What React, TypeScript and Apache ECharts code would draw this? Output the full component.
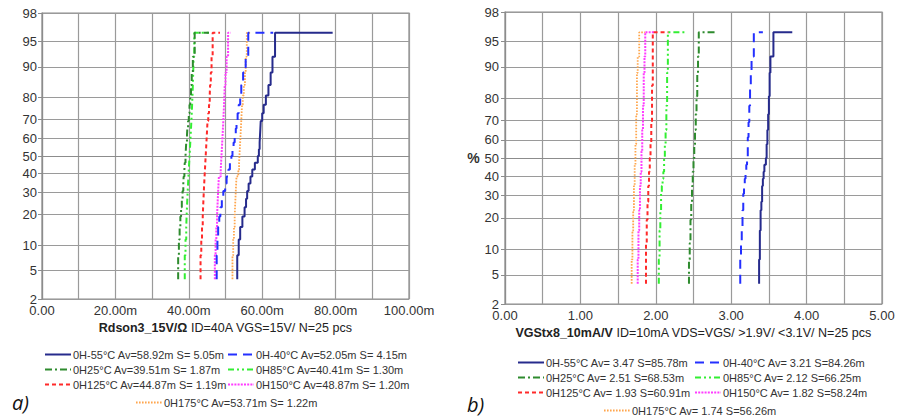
import React, { useEffect, useRef } from "react";
import * as echarts from "echarts";

// Plotting positions (%) for N = 25 pcs
const PLOT_POS = [3.85, 7.69, 11.54, 15.38, 19.23, 23.08, 26.92, 30.77, 34.62, 38.46, 42.31, 46.15, 50.0, 53.85, 57.69, 61.54, 65.38, 69.23, 73.08, 76.92, 80.77, 84.62, 88.46, 92.31, 96.15];

// Probability axis tick labels (%)
const Y_TICKS = [2, 5, 10, 20, 30, 40, 50, 60, 70, 80, 90, 95, 98];

// Panel a) Rdson (m-ohm)
const A_NAMES = [
  "0H-55°C Av=58.92m S= 5.05m",
  "0H-40°C Av=52.05m S= 4.15m",
  "0H25°C Av=39.51m S= 1.87m",
  "0H85°C Av=40.41m S= 1.30m",
  "0H125°C Av=44.87m S= 1.19m",
  "0H150°C Av=48.87m S= 1.20m",
  "0H175°C Av=53.71m S= 1.22m",
];
const A_M55 = [53.2, 53.6, 54.0, 54.6, 55.2, 55.6, 55.9, 56.3, 56.8, 57.3, 58.0, 58.8, 59.1, 59.3, 59.4, 59.5, 59.6, 60.0, 60.4, 61.0, 61.7, 62.3, 62.8, 63.5, 79.2];
const A_M40 = [47.6, 47.8, 48.0, 48.3, 48.6, 49.0, 49.4, 49.9, 50.3, 50.8, 51.2, 51.6, 51.9, 52.2, 52.5, 52.8, 53.0, 53.3, 53.6, 54.0, 54.3, 54.8, 55.5, 56.2, 63.0];
const A_25 = [37.1, 37.3, 37.5, 37.7, 37.9, 38.1, 38.3, 38.5, 38.6, 38.8, 38.9, 39.1, 39.2, 39.3, 39.5, 39.6, 39.8, 40.0, 40.2, 40.4, 40.6, 40.8, 41.1, 41.6, 45.5];
const A_85 = [38.9, 39.1, 39.3, 39.4, 39.5, 39.6, 39.7, 39.8, 39.9, 40.0, 40.1, 40.2, 40.3, 40.4, 40.5, 40.6, 40.7, 40.8, 40.9, 41.0, 41.1, 41.2, 41.3, 41.5, 46.0];
const A_125 = [43.2, 43.4, 43.6, 43.8, 43.9, 44.0, 44.1, 44.2, 44.3, 44.4, 44.5, 44.6, 44.7, 44.8, 44.9, 45.0, 45.1, 45.3, 45.5, 45.7, 45.8, 46.0, 46.2, 46.5, 48.5];
const A_150 = [47.1, 47.3, 47.5, 47.7, 47.8, 47.9, 48.0, 48.1, 48.2, 48.7, 48.8, 48.9, 49.0, 49.1, 49.2, 49.3, 49.4, 49.5, 49.6, 49.7, 49.8, 50.0, 50.3, 50.7, 51.4];
const A_175 = [51.9, 52.1, 52.3, 52.5, 52.6, 52.7, 52.8, 52.9, 53.0, 53.5, 53.7, 53.8, 53.9, 54.0, 54.1, 54.2, 54.3, 54.4, 54.5, 54.7, 55.0, 55.3, 55.5, 55.8, 56.7];
const A_X_LABELS = ["0.00", "20.00m", "40.00m", "60.00m", "80.00m", "100.00m"];

// Panel b) VGS threshold (V)
const B_NAMES = [
  "0H-55°C Av= 3.47 S=85.78m",
  "0H-40°C Av= 3.21 S=84.26m",
  "0H25°C Av= 2.51 S=68.53m",
  "0H85°C Av= 2.12 S=66.25m",
  "0H125°C Av= 1.93 S=60.91m",
  "0H150°C Av= 1.82 S=58.24m",
  "0H175°C Av= 1.74 S=56.26m",
];
const B_M55 = [3.37, 3.38, 3.38, 3.39, 3.39, 3.40, 3.41, 3.41, 3.42, 3.43, 3.44, 3.46, 3.47, 3.47, 3.48, 3.48, 3.49, 3.49, 3.50, 3.50, 3.51, 3.51, 3.52, 3.56, 3.81];
const B_M40 = [3.12, 3.13, 3.14, 3.15, 3.15, 3.16, 3.16, 3.17, 3.18, 3.19, 3.20, 3.21, 3.22, 3.22, 3.22, 3.23, 3.23, 3.24, 3.24, 3.25, 3.25, 3.26, 3.27, 3.30, 3.42];
const B_25 = [2.44, 2.45, 2.46, 2.46, 2.47, 2.47, 2.48, 2.48, 2.49, 2.49, 2.50, 2.50, 2.51, 2.51, 2.52, 2.52, 2.53, 2.53, 2.54, 2.54, 2.55, 2.55, 2.56, 2.57, 2.78];
const B_85 = [2.04, 2.05, 2.05, 2.06, 2.06, 2.07, 2.07, 2.08, 2.09, 2.10, 2.11, 2.11, 2.12, 2.12, 2.13, 2.13, 2.14, 2.14, 2.14, 2.15, 2.15, 2.15, 2.16, 2.16, 2.41];
const B_125 = [1.87, 1.87, 1.88, 1.88, 1.89, 1.89, 1.90, 1.90, 1.91, 1.91, 1.92, 1.92, 1.93, 1.93, 1.94, 1.94, 1.94, 1.95, 1.95, 1.95, 1.95, 1.96, 1.96, 1.96, 2.17];
const B_150 = [1.76, 1.77, 1.77, 1.78, 1.78, 1.79, 1.79, 1.79, 1.80, 1.80, 1.81, 1.81, 1.81, 1.82, 1.82, 1.82, 1.83, 1.83, 1.83, 1.84, 1.84, 1.84, 1.85, 1.86, 1.98];
const B_175 = [1.68, 1.69, 1.69, 1.70, 1.70, 1.71, 1.71, 1.71, 1.72, 1.72, 1.72, 1.73, 1.73, 1.73, 1.74, 1.74, 1.74, 1.74, 1.75, 1.75, 1.75, 1.75, 1.76, 1.78, 1.86];
const B_X_LABELS = ["0.00", "1.00", "2.00", "3.00", "4.00", "5.00"];

const COLORS = ["#262b8c", "#2430ff", "#2e8b2e", "#33ee33", "#ff2a2a", "#ff3cff", "#ffa64d"];
const DASHES: any[] = ["solid", [9, 6], [7, 3, 2, 3], [6, 3, 2, 3, 2, 3], [4, 3], [2, 1.2], [1.6, 1.4]];
const WIDTHS = [2, 2, 2, 2, 2, 2, 1.8];

const FONT = "'Liberation Sans', Arial, sans-serif";

function probit(p: number): number {
  const a = [-3.969683028665376e1, 2.209460984245205e2, -2.759285104469687e2, 1.38357751867269e2, -3.066479806614716e1, 2.506628277459239];
  const b = [-5.447609879822406e1, 1.615858368580409e2, -1.556989798598866e2, 6.680131188771972e1, -1.328068155288572e1];
  const c = [-7.784894002430293e-3, -3.223964580411365e-1, -2.400758277161838, -2.549671010229583, 4.374664141464968, 2.938163982698783];
  const d = [7.784695709041462e-3, 3.224671290700398e-1, 2.445134137142996, 3.754408661907416];
  const pl = 0.02425;
  if (p < pl) {
    const q = Math.sqrt(-2 * Math.log(p));
    return (((((c[0] * q + c[1]) * q + c[2]) * q + c[3]) * q + c[4]) * q + c[5]) / ((((d[0] * q + d[1]) * q + d[2]) * q + d[3]) * q + 1);
  }
  if (p <= 1 - pl) {
    const q = p - 0.5;
    const r = q * q;
    return ((((((a[0] * r + a[1]) * r + a[2]) * r + a[3]) * r + a[4]) * r + a[5]) * q) / (((((b[0] * r + b[1]) * r + b[2]) * r + b[3]) * r + b[4]) * r + 1);
  }
  const q = Math.sqrt(-2 * Math.log(1 - p));
  return -(((((c[0] * q + c[1]) * q + c[2]) * q + c[3]) * q + c[4]) * q + c[5]) / ((((d[0] * q + d[1]) * q + d[2]) * q + d[3]) * q + 1);
}

const Y_Z = Y_TICKS.map((t) => probit(t / 100));
const Y_MIN = Y_Z[0];
const Y_MAX = Y_Z[Y_Z.length - 1];

function yLabel(v: number): string {
  let best = 0;
  for (let i = 1; i < Y_Z.length; i++) if (Math.abs(Y_Z[i] - v) < Math.abs(Y_Z[best] - v)) best = i;
  return String(Y_TICKS[best]);
}

function makeSeries(values: number[][], names: string[], gridIdx: number) {
  return values.map((vals, k) => ({
    type: "line",
    name: names[k],
    xAxisIndex: gridIdx,
    yAxisIndex: gridIdx,
    step: "start",
    symbol: "none",
    showSymbol: false,
    z: 10 - k,
    lineStyle: { color: COLORS[k], width: WIDTHS[k], type: DASHES[k] },
    itemStyle: { color: COLORS[k] },
    data: vals.map((v, i) => [v, probit(PLOT_POS[i] / 100)]),
  }));
}

function yAxisCfg(gridIndex: number, margin: number, name: string) {
  return {
    type: "value",
    gridIndex,
    min: Y_MIN,
    max: Y_MAX,
    name,
    nameLocation: "middle",
    nameRotate: 0,
    nameGap: 24,
    nameTextStyle: { fontFamily: FONT, fontSize: 14, fontWeight: "bold", color: "#333" },
    axisLine: { show: true, lineStyle: { color: "#8c8c8c", width: 1.2 } },
    axisTick: { show: true, length: 4, customValues: Y_Z, lineStyle: { color: "#8c8c8c" } },
    axisLabel: { customValues: Y_Z, margin, fontFamily: FONT, fontSize: 13, color: "#333", formatter: (v: number) => yLabel(v) },
    splitLine: { show: true, lineStyle: { color: "#9a9a9a", width: 1.2 } },
  };
}

function legendCfg(left: number, top: number, data: string[]) {
  return {
    left,
    top,
    orient: "vertical",
    padding: 0,
    itemWidth: 26,
    itemHeight: 12,
    itemGap: 4,
    selectedMode: false,
    itemStyle: { opacity: 0, borderWidth: 0 },
    data,
    textStyle: { fontFamily: FONT, fontSize: 11, color: "#333", padding: [0, 0, 0, -3] },
  };
}

export default function App() {
  const ref = useRef<HTMLDivElement>(null);
  useEffect(() => {
    if (!ref.current) return;
    const chart = echarts.init(ref.current, null, { renderer: "svg" });
    const option: any = {
      animation: false,
      backgroundColor: "#fff",
      grid: [
        { left: 42, top: 13, width: 367, height: 286, show: true, borderColor: "#8c8c8c", borderWidth: 1.2, backgroundColor: "#fff" },
        { left: 505, top: 12, width: 377, height: 292, show: true, borderColor: "#8c8c8c", borderWidth: 1.2, backgroundColor: "#fff" },
      ],
      xAxis: [
        {
          type: "value",
          gridIndex: 0,
          min: 0,
          max: 100,
          interval: 10,
          name: "{b|Rdson3_15V/Ω} ID=40A VGS=15V/ N=25 pcs",
          nameLocation: "middle",
          nameGap: 21,
          nameTextStyle: {
            fontFamily: FONT,
            fontSize: 12.5,
            color: "#222",
            verticalAlign: "top",
            rich: { b: { fontFamily: FONT, fontSize: 12.5, fontWeight: "bold", color: "#222" } },
          },
          axisLine: { show: true, lineStyle: { color: "#8c8c8c", width: 1.2 } },
          axisTick: { show: false },
          axisLabel: {
            margin: 5,
            fontFamily: FONT,
            fontSize: 13,
            color: "#333",
            formatter: (v: number) => (Math.round(v) % 20 === 0 ? A_X_LABELS[Math.round(v) / 20] : ""),
          },
          splitLine: { show: true, lineStyle: { color: "#9a9a9a", width: 1.2 } },
        },
        {
          type: "value",
          gridIndex: 1,
          min: 0,
          max: 5,
          interval: 0.5,
          name: "{b|VGStx8_10mA/V} ID=10mA VDS=VGS/ >1.9V/ <3.1V/ N=25 pcs",
          nameLocation: "middle",
          nameGap: 20,
          nameTextStyle: {
            fontFamily: FONT,
            fontSize: 12.5,
            color: "#222",
            verticalAlign: "top",
            rich: { b: { fontFamily: FONT, fontSize: 12.5, fontWeight: "bold", color: "#222" } },
          },
          axisLine: { show: true, lineStyle: { color: "#8c8c8c", width: 1.2 } },
          axisTick: { show: false },
          axisLabel: {
            margin: 5,
            fontFamily: FONT,
            fontSize: 13,
            color: "#333",
            formatter: (v: number) => {
              const k = Math.round(v * 2);
              return k % 2 === 0 ? B_X_LABELS[k / 2] : "";
            },
          },
          splitLine: { show: true, lineStyle: { color: "#9a9a9a", width: 1.2 } },
        },
      ],
      yAxis: [yAxisCfg(0, 5, ""), yAxisCfg(1, 6, "%")],
      legend: [
        legendCfg(44, 349, [A_NAMES[0], A_NAMES[2], A_NAMES[4]]),
        legendCfg(227, 349, [A_NAMES[1], A_NAMES[3], A_NAMES[5]]),
        legendCfg(135, 397, [A_NAMES[6]]),
        legendCfg(517, 357, [B_NAMES[0], B_NAMES[2], B_NAMES[4]]),
        legendCfg(694, 357, [B_NAMES[1], B_NAMES[3], B_NAMES[5]]),
        legendCfg(603, 405, [B_NAMES[6]]),
      ],
      graphic: [
        { type: "text", left: 12, top: 392, style: { text: "a)", fontFamily: "'Open Sans', sans-serif", fontStyle: "italic", fontSize: 20, fill: "#111" } },
        { type: "text", left: 467, top: 394, style: { text: "b)", fontFamily: "'Open Sans', sans-serif", fontStyle: "italic", fontSize: 20, fill: "#111" } },
      ],
      series: [
        ...makeSeries([A_M55, A_M40, A_25, A_85, A_125, A_150, A_175], A_NAMES, 0),
        ...makeSeries([B_M55, B_M40, B_25, B_85, B_125, B_150, B_175], B_NAMES, 1),
      ],
    };
    chart.setOption(option);
    return () => chart.dispose();
  }, []);
  return <div ref={ref} style={{ position: "absolute", left: 0, top: 0, width: 908, height: 416, background: "#fff" }} />;
}
